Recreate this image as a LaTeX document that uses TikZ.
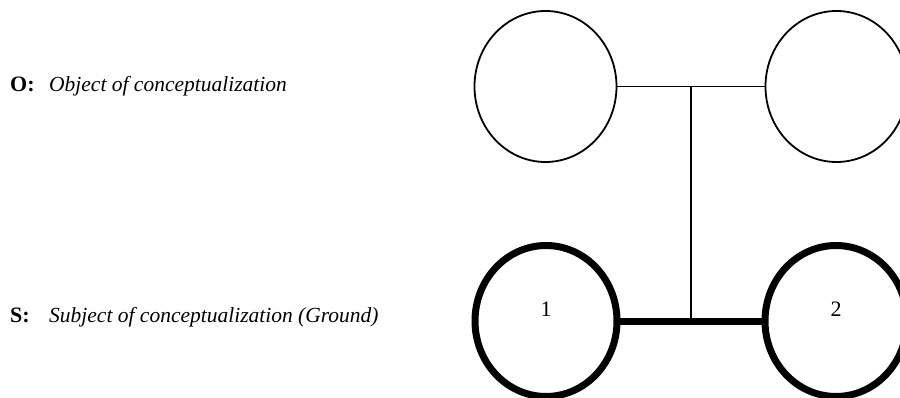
\documentclass[tikz,border=0pt]{standalone}
\usepackage{fontspec}
\setmainfont{Liberation Serif}
\usetikzlibrary{shapes.geometric,calc}

\begin{document}
\begin{tikzpicture}[x=1pt,y=-1pt,
    concept/.style={draw,ellipse,inner sep=0pt,minimum width=142pt,minimum height=151pt,line width=1.8pt},
    ground/.style={concept,line width=7pt},
    keyname/.style={anchor=base west,inner sep=0pt,font=\fontsize{22}{26}\selectfont\bfseries},
    gloss/.style={anchor=base west,inner sep=0pt,font=\fontsize{21.5}{26}\selectfont\itshape},
    num/.style={inner sep=0pt,font=\fontsize{22}{26}\selectfont}]
    \useasboundingbox (0,0) rectangle (900,398);
    % object of conceptualization
    \node[concept](objA) at (545.5,86.5){};
    \node[concept](objB) at (836.5,86.5){};
    \draw[line width=1.8pt](objA.east)--(objB.west);
    % subject of conceptualization (ground)
    \node[ground](gr1) at (546,321){};
    \node[ground](gr2) at (836,321){};
    \draw[line width=7pt,shorten <=-3pt,shorten >=-3pt](gr1.east)--(gr2.west);
    \node[num](n1) at ([yshift=11.5pt]gr1.center){1};
    \node[num](n2) at ([yshift=11.5pt]gr2.center){2};
    \coordinate(joinT) at ($(objA.east)!0.5!(objB.west)$);
    \coordinate(joinB) at ($(gr1.east)!0.5!(gr2.west)$);
    \draw[line width=1.8pt](joinT)--(joinB);
    % key
    \node[keyname](oKey) at (10,92){O:};
    \node[gloss](oText) at (49,92){Object of conceptualization};
    \node[keyname](sKey) at (10,323){S:};
    \node[gloss](sText) at (49,323){Subject of conceptualization (Ground)};
\end{tikzpicture}
\end{document}
